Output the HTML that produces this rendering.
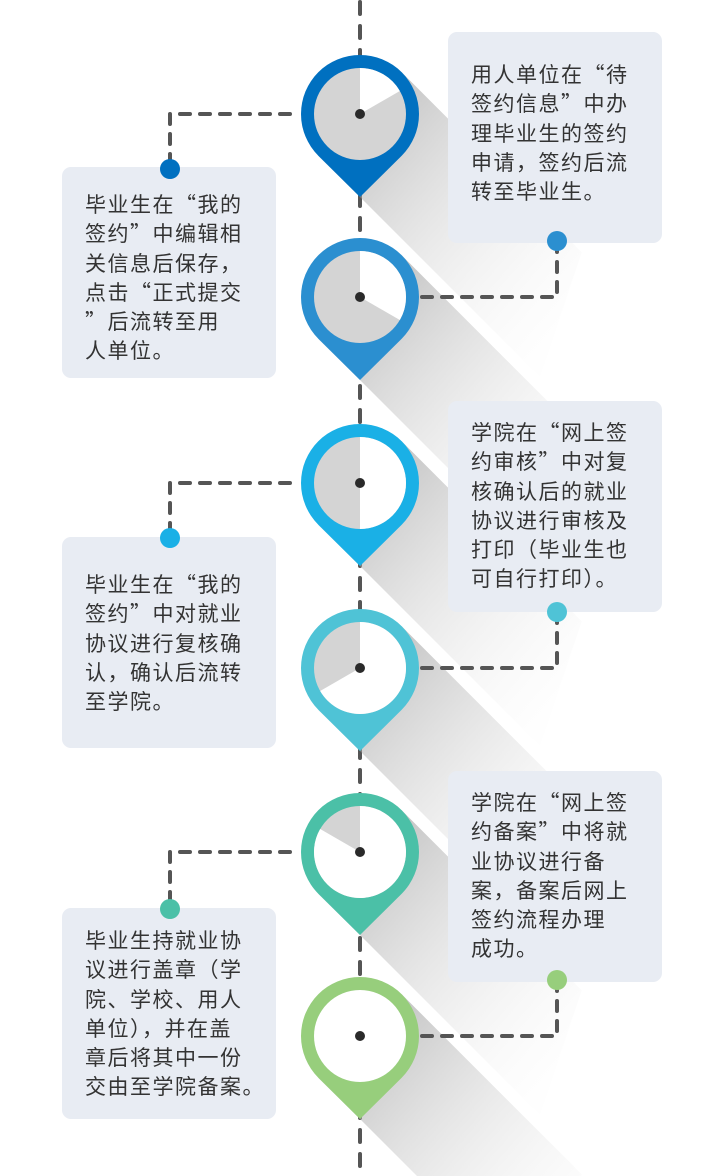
<!DOCTYPE html>
<html><head><meta charset="utf-8"><style>
html,body{margin:0;padding:0;background:#fff;width:720px;height:1176px;overflow:hidden;}
#wrap{position:relative;width:720px;height:1176px;overflow:hidden;}
svg{position:absolute;left:0;top:0;}
.t{position:absolute;font-family:"Noto Sans CJK SC","Liberation Sans",sans-serif;font-size:21px;line-height:29.3px;color:#333;letter-spacing:1.5px;white-space:nowrap;}
</style></head><body><div id="wrap">
<svg width="720" height="1176" viewBox="0 0 720 1176">
<defs>
<linearGradient id="sh" x1="0" y1="0" x2="1" y2="1" gradientUnits="objectBoundingBox">
<stop offset="0" stop-color="#888" stop-opacity="0.7"/>
<stop offset="1" stop-color="#fff" stop-opacity="0"/>
</linearGradient>
</defs>
<line x1="360" y1="2" x2="360" y2="1176" stroke="#555" stroke-width="4" stroke-dasharray="12 12" stroke-linecap="round"/>
<g id="shadows"></g>
<g fill="#e8ecf3">
<rect x="448" y="32" width="214" height="211" rx="9"/>
<rect x="62" y="167" width="214" height="211" rx="9"/>
<rect x="448" y="401" width="214" height="211" rx="9"/>
<rect x="62" y="537" width="214" height="211" rx="9"/>
<rect x="448" y="771" width="214" height="211" rx="9"/>
<rect x="62" y="908" width="214" height="211" rx="9"/>
</g>
<g fill="none" stroke="#555" stroke-width="4" stroke-dasharray="10 10" stroke-linecap="round">
<path d="M290 114 H170 V160"/>
<path d="M422 297 H557 V250"/>
<path d="M290 483 H170 V530"/>
<path d="M422 668 H557 V620"/>
<path d="M290 852 H170 V900"/>
<path d="M422 1036 H557 V990"/>
</g>
<g id="pins"></g>
<circle cx="170" cy="169" r="10" fill="#0070c0"/>
<circle cx="557" cy="241" r="10" fill="#2b8fd0"/>
<circle cx="170" cy="538" r="10" fill="#1ab0e6"/>
<circle cx="557" cy="612" r="10" fill="#4fc3d6"/>
<circle cx="170" cy="909" r="10" fill="#4bc0a7"/>
<circle cx="557" cy="980" r="10" fill="#97ce7c"/>
</svg>
<div class="t" style="left:471px;top:60px">用人单位在“待<br>签约信息”中办<br>理毕业生的签约<br>申请，签约后流<br>转至毕业生。</div>
<div class="t" style="left:85px;top:190px">毕业生在“我的<br>签约”中编辑相<br>关信息后保存，<br>点击“正式提交<br>”后流转至用<br>人单位。</div>
<div class="t" style="left:471px;top:418px">学院在“网上签<br>约审核”中对复<br>核确认后的就业<br>协议进行审核及<br>打印（毕业生也<br>可自行打印）。</div>
<div class="t" style="left:85px;top:570px">毕业生在“我的<br>签约”中对就业<br>协议进行复核确<br>认，确认后流转<br>至学院。</div>
<div class="t" style="left:471px;top:788px">学院在“网上签<br>约备案”中将就<br>业协议进行备<br>案，备案后网上<br>签约流程办理<br>成功。</div>
<div class="t" style="left:85px;top:926px">毕业生持就业协<br>议进行盖章（学<br>院、学校、用人<br>单位），并在盖<br>章后将其中一份<br>交由至学院备案。</div>
<script>
var pins=[[114,'#0070c0',60],[297,'#2b8fd0',120],[483,'#1ab0e6',180],[668,'#4fc3d6',240],[852,'#4bc0a7',300],[1036,'#97ce7c',360]];
var ns='http://www.w3.org/2000/svg',cx=360;
var S=document.getElementById('shadows'),P=document.getElementById('pins');
function el(t,a,p){var e=document.createElementNS(ns,t);for(var k in a)e.setAttribute(k,a[k]);p.appendChild(e);return e;}
pins.forEach(function(p){
 var cy=p[0],c=p[1],ang=p[2],L=180,d=41.7;
 var pts=[[cx+d,cy-d],[cx+d+L,cy-d+L],[cx+L,cy+83+L],[cx,cy+83],[cx-d,cy+d]];
 el('polygon',{points:pts.map(function(q){return q.join(',')}).join(' '),fill:'url(#sh)'},S);
 el('path',{d:'M'+(cx-d)+' '+(cy+d)+' A59 59 0 1 1 '+(cx+d)+' '+(cy+d)+' L'+cx+' '+(cy+83)+' Z',fill:c},P);
 var r=46;
 el('circle',{cx:cx,cy:cy,r:r,fill:ang>=360?'#fff':'#d4d4d4'},P);
 if(ang<360){
  var a=ang*Math.PI/180,x=cx+r*Math.sin(a),y=cy-r*Math.cos(a);
  el('path',{d:'M'+cx+' '+cy+' L'+cx+' '+(cy-r)+' A'+r+' '+r+' 0 '+(ang>180?1:0)+' 1 '+x+' '+y+' Z',fill:'#fff'},P);
 }
 el('circle',{cx:cx,cy:cy,r:5,fill:'#2a2a2a'},P);
});
</script>
</div></body></html>
